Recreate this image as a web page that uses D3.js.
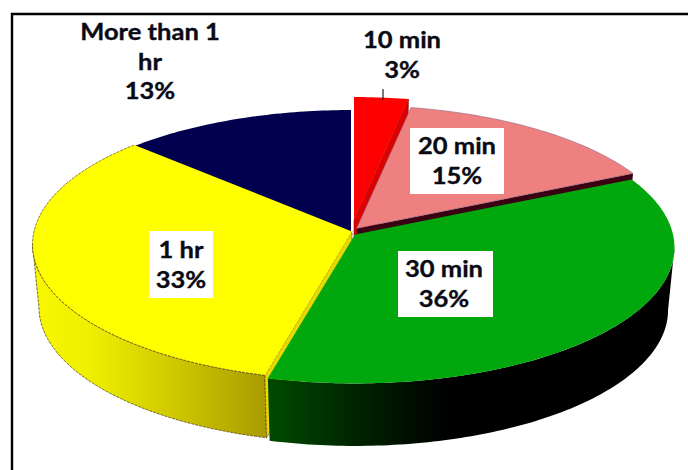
<!DOCTYPE html>
<html><head><meta charset="utf-8">
<script src="https://cdn.jsdelivr.net/npm/d3@7"></script>
<style>html,body{margin:0;padding:0;background:#fff}svg{display:block}</style>
</head><body><svg id="c" width="688" height="470"></svg>
<script>
const categories = ["10 min","20 min","30 min","1 hr","More than 1 hr"];
const values = [3,15,36,33,13];
const labelLines = [["10 min","3%"],["20 min","15%"],["30 min","36%"],["1 hr","33%"],["More than 1","hr","13%"]];
const topColors = ["#ff0000","#ee8080","#00a80e","#ffff00","#00004f"];

const W=688,H=470, cx=354, cy=233, Rx=318, Ry=134.7, k=0.0955, depth=62.5, bottomScale=0.98;
const offsets=[[0,-13],[2.5,-4.5],[1,1.5],[-2,-1.5],[-3,0]];
const labelAt=[[402,48,null],[457,154,[410,128,94,66]],[444,277,[398,251,95,66]],[181,258,[149,231,64,67]],[150,40,null]];
const lineGap=29.5;

const svg=d3.select("#c");
svg.append("rect").attr("width",W).attr("height",H).attr("fill","#fff");
svg.append("path").attr("d","M12,470V14H688").attr("fill","none").attr("stroke","#000").attr("stroke-width",2.4);

const defs=svg.append("defs");
function grad(id,x1,x2,stops){
  const g=defs.append("linearGradient").attr("id",id).attr("gradientUnits","userSpaceOnUse")
    .attr("x1",x1).attr("x2",x2).attr("y1",0).attr("y2",0);
  stops.forEach(s=>g.append("stop").attr("offset",s[0]).attr("stop-color",s[1]));
}
grad("gy",34,268,[[0,"#f8f800"],[0.25,"#eeee00"],[0.6,"#cfc800"],[1,"#a89a00"]]);
grad("gg",268,445,[[0,"#004a00"],[0.5,"#002400"],[1,"#000000"]]);

const pie=d3.pie().sort(null).value(d=>d).startAngle(0).endAngle(2*Math.PI);
const arcs=pie(values);
const line=d3.line();

function proj(t,off,drop,sx){
  const u=Math.sin(t), v=-Math.cos(t), w=1-k*v;
  return [cx+off[0]+(sx||1)*Rx*u/w, cy+off[1]+drop+Ry*v/w];
}
function apex(off,drop){return [cx+off[0],cy+off[1]+drop];}
function arcPts(a,off,drop,sx){
  const n=Math.max(8,Math.ceil((a.endAngle-a.startAngle)*60));
  return d3.range(n+1).map(i=>proj(a.startAngle+(a.endAngle-a.startAngle)*i/n,off,drop,sx));
}
// the silhouette of the drum: the side wall is visible only in front of the widest point of the ellipse
const tangent=Math.acos(-k);
function frontPart(a){
  return {startAngle:Math.max(a.startAngle,tangent),endAngle:Math.min(a.endAngle,2*Math.PI-tangent)};
}
const topPath=i=>line([apex(offsets[i],0),...arcPts(arcs[i],offsets[i],0)])+"Z";
const outerWall=i=>{
  const f=frontPart(arcs[i]);
  return line([...arcPts(f,offsets[i],0),...arcPts(f,offsets[i],depth,bottomScale).reverse()])+"Z";
};
const radialWall=(i,t)=>{
  const o=offsets[i];
  return line([apex(o,0),proj(t,o,0),proj(t,o,depth,bottomScale),apex(o,depth)])+"Z";
};
const edge="#5b4a10";

svg.append("path").attr("d",outerWall(3)).attr("fill","url(#gy)").attr("stroke",edge).attr("stroke-width",0.8).attr("stroke-dasharray","3 1");
svg.append("path").attr("d",radialWall(3,arcs[3].startAngle)).attr("fill","#e8d800").attr("stroke",edge).attr("stroke-width",0.7).attr("stroke-dasharray","3 1");
svg.append("path").attr("d",radialWall(0,arcs[0].endAngle)).attr("fill","#dd0000").attr("stroke","#700").attr("stroke-width",0.5);
svg.append("path").attr("d",topPath(0)).attr("fill",topColors[0]);
svg.append("path").attr("d",radialWall(1,arcs[1].endAngle)).attr("fill","#3a0012");
svg.append("path").attr("d",topPath(1)).attr("fill",topColors[1]).attr("stroke","#7a5a80").attr("stroke-width",0.5);
svg.append("path").attr("d",topPath(4)).attr("fill",topColors[4]);
svg.append("path").attr("d",topPath(3)).attr("fill",topColors[3]);
svg.append("path").attr("d",line(arcPts(arcs[3],offsets[3],0))).attr("fill","none").attr("stroke",edge).attr("stroke-width",0.7).attr("stroke-dasharray","3 1");
svg.append("path").attr("d",outerWall(2)).attr("fill","url(#gg)");
svg.append("path").attr("d",topPath(2)).attr("fill",topColors[2]);

svg.append("line").attr("x1",383).attr("x2",383).attr("y1",89).attr("y2",100).attr("stroke","#222").attr("stroke-width",1.2);

labelLines.forEach((ls,i)=>{
  const [x,y,b]=labelAt[i];
  if(b) svg.append("rect").attr("x",b[0]).attr("y",b[1]).attr("width",b[2]).attr("height",b[3]).attr("fill","#fff");
  ls.forEach((s,j)=>svg.append("text").attr("transform",`translate(${x},${y+j*lineGap}) scale(1.16,1)`)
    .attr("text-anchor","middle").attr("font-family","Lato").attr("font-weight",700)
    .attr("font-size",22).attr("fill","#0a0a14").attr("stroke","#0a0a14").attr("stroke-width",0.35).text(s));
});
</script></body></html>
